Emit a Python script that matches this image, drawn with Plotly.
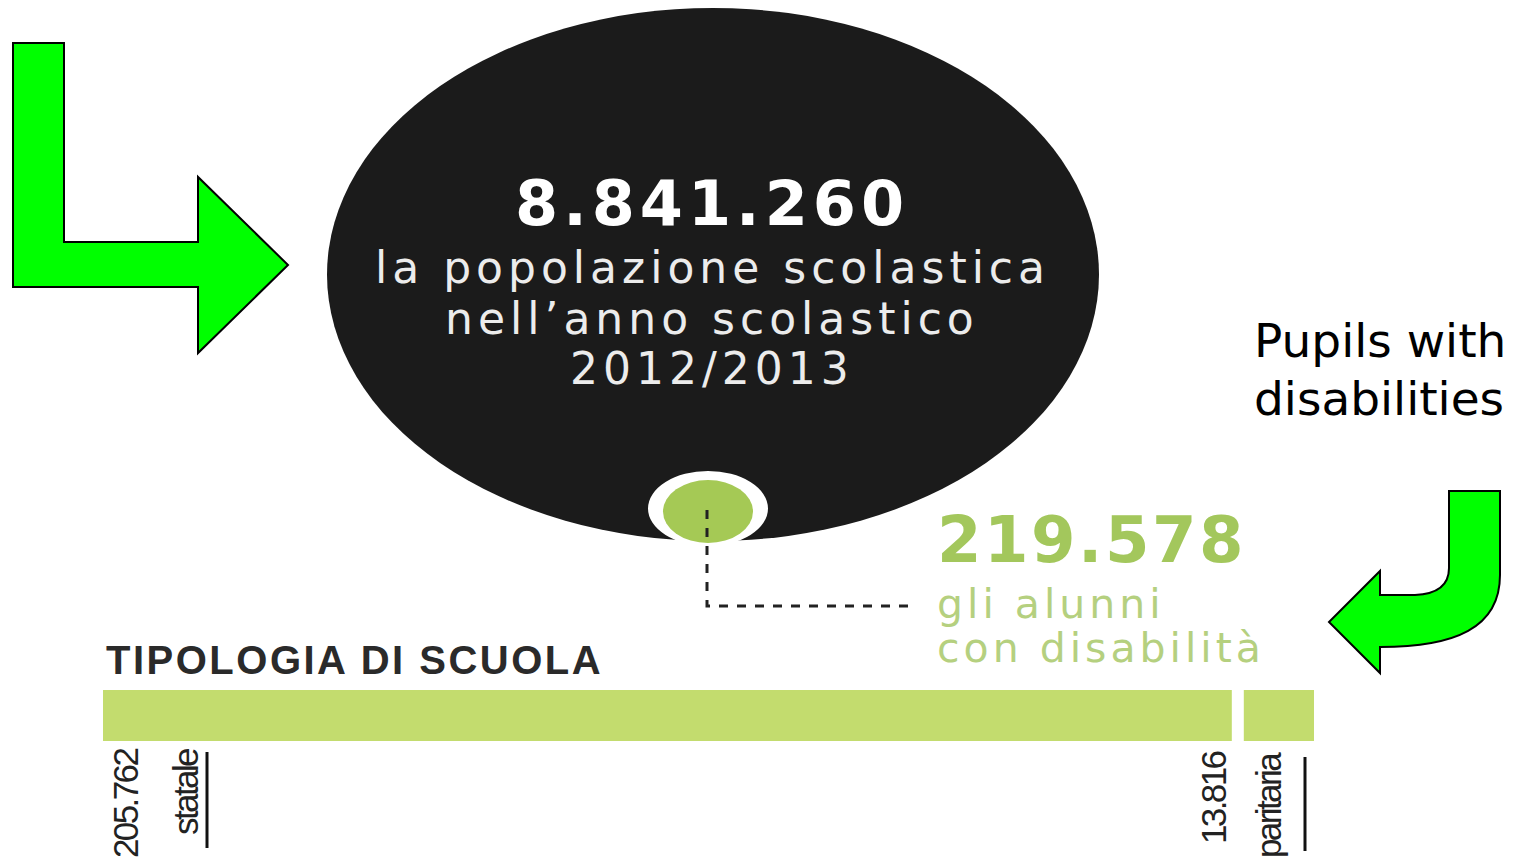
import plotly.graph_objects as go

# Data
total_pupils = 8841260
disabled_total = 219578
school_types = ["statale", "paritaria"]
disabled_by_type = [205762, 13816]

W, H = 1524, 863
BAR_GREEN = "#c3dc6e"
DARK = "#1b1b1b"


def it_num(v):
    return f"{v:,}".replace(",", ".")


def spaced(txt, px, bold=False):
    inner = f"<b>{txt}</b>" if bold else txt
    return f'<span style="letter-spacing:{px}px">{inner}</span>'


fig = go.Figure()

# Horizontal stacked bar: pupils with disabilities by school type
bases = [0, disabled_by_type[0]]
fig.add_trace(go.Bar(
    x=disabled_by_type, y=[0, 0], base=bases, orientation="h",
    width=1, marker=dict(color=BAR_GREEN, line=dict(width=0)),
    xaxis="x2", yaxis="y2", showlegend=False, hoverinfo="skip",
))

shapes = []
# big dark disc
shapes.append(dict(type="circle", xref="x", yref="y", x0=327, x1=1099, y0=8, y1=541,
                   fillcolor=DARK, line=dict(width=0), layer="below"))
# white ring + green dot
shapes.append(dict(type="circle", xref="x", yref="y", x0=648, x1=768, y0=471, y1=546,
                   fillcolor="white", line=dict(width=0)))
shapes.append(dict(type="circle", xref="x", yref="y", x0=663, x1=753, y0=480, y1=543,
                   fillcolor="#a5c955", line=dict(width=0)))
# dashed connector
shapes.append(dict(type="path", xref="x", yref="y", path="M 707,510 L 707,606 L 915,606",
                   line=dict(color="#222222", width=3, dash="dash")))
# separator between segments
shapes.append(dict(type="line", xref="x2", yref="y2", x0=disabled_by_type[0], x1=disabled_by_type[0],
                   y0=-0.6, y1=0.6, line=dict(color="white", width=12)))
# small rules next to labels
shapes.append(dict(type="line", xref="x", yref="y", x0=207, x1=207, y0=752, y1=848,
                   line=dict(color="#111111", width=3)))
shapes.append(dict(type="line", xref="x", yref="y", x0=1305, x1=1305, y0=757, y1=851,
                   line=dict(color="#111111", width=3)))
# green arrows
shapes.append(dict(type="path", xref="x", yref="y",
                   path="M 13,43 L 64,43 L 64,242 L 198,242 L 198,177 L 288,265 L 198,353 L 198,287 L 13,287 Z",
                   fillcolor="#00ff00", line=dict(color="black", width=2)))
shapes.append(dict(type="path", xref="x", yref="y",
                   path=("M 1449,491 L 1500,491 L 1500,575 C 1500,628 1455,647 1380,647 "
                         "L 1380,673 L 1329,622 L 1380,571 L 1380,595 L 1415,595 "
                         "C 1438,594 1449,585 1449,568 Z"),
                   fillcolor="#00ff00", line=dict(color="black", width=2)))

ann = []
# headline in the disc
ann.append(dict(x=712, y=203, text=spaced(it_num(total_pupils), 5, bold=True),
                font=dict(family="DejaVu Sans", size=62, color="white")))
for txt, yy in [("la popolazione scolastica", 267), ("nell\u2019anno scolastico", 318), ("2012/2013", 368)]:
    ann.append(dict(x=712, y=yy, text=spaced(txt, 5),
                    font=dict(family="DejaVu Sans", size=44, color="#ececec")))

# disabled pupils callout
ann.append(dict(x=935, y=540, xanchor="left", text=spaced(it_num(disabled_total), 2.5, bold=True),
                font=dict(family="DejaVu Sans", size=64, color="#a3c75c")))
ann.append(dict(x=935, y=604, xanchor="left", text=spaced("gli alunni", 4),
                font=dict(family="DejaVu Sans", size=41, color="#b5d07f")))
ann.append(dict(x=935, y=648, xanchor="left", text=spaced("con disabilità", 4),
                font=dict(family="DejaVu Sans", size=41, color="#b5d07f")))

ann.append(dict(x=104, y=660, xanchor="left", text=spaced("TIPOLOGIA DI SCUOLA", 2.5, bold=True),
                font=dict(family="Liberation Sans", size=40, color="#2a2a2a")))

ann.append(dict(x=1252, y=340, xanchor="left", text="Pupils with",
                font=dict(family="DejaVu Sans", size=47, color="black")))
ann.append(dict(x=1252, y=398, xanchor="left", text="disabilities",
                font=dict(family="DejaVu Sans", size=47, color="black")))

# rotated segment labels
for txt, xx, yy in [(it_num(disabled_by_type[0]), 125, 804), (school_types[0], 185, 792),
                    (it_num(disabled_by_type[1]), 1213, 798), (school_types[1], 1268, 805)]:
    ann.append(dict(x=xx, y=yy, text=spaced(txt, -2.6), textangle=-90,
                    font=dict(family="Liberation Sans", size=35, color="#222222")))

for a in ann:
    a.setdefault("xref", "x")
    a.setdefault("yref", "y")
    a.setdefault("showarrow", False)
    a.setdefault("xanchor", "center")
    a.setdefault("yanchor", "middle")

fig.update_layout(
    width=W, height=H, margin=dict(l=0, r=0, t=0, b=0),
    paper_bgcolor="white", plot_bgcolor="rgba(0,0,0,0)",
    xaxis=dict(range=[0, W], visible=False, domain=[0, 1]),
    yaxis=dict(range=[H, 0], visible=False, domain=[0, 1]),
    xaxis2=dict(range=[0, sum(disabled_by_type)], visible=False,
                domain=[103 / W, 1314 / W], anchor="y2"),
    yaxis2=dict(range=[-0.5, 0.5], visible=False,
                domain=[(H - 741) / H, (H - 690) / H], anchor="x2"),
    shapes=shapes, annotations=ann, showlegend=False,
)

fig.write_html("out.html")
